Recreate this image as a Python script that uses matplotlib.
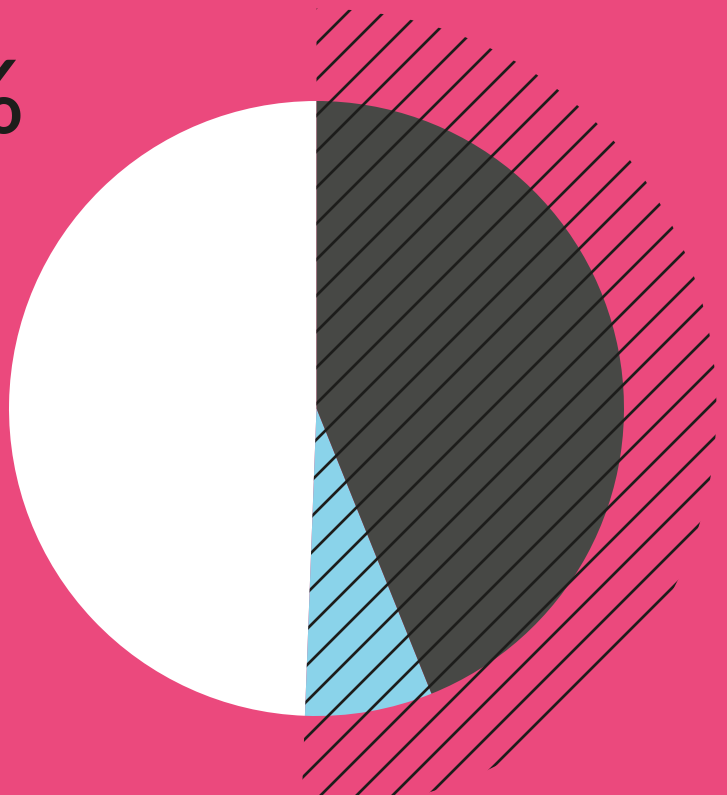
import matplotlib
matplotlib.use("Agg")
import matplotlib.pyplot as plt
from matplotlib.patches import Wedge

# Data
labels = ["White", "Blue", "Grey"]
values = [49.4, 6.7, 43.9]
colors = ["#ffffff", "#8ad3ea", "#474845"]
big_text = "%"

BG = "#eb497d"
DARK = "#1d1d1b"

W, H, DPI = 727, 795, 108
plt.rcParams["hatch.linewidth"] = 1.8
fig = plt.figure(figsize=(W / DPI, H / DPI), dpi=DPI, facecolor=BG)
ax = fig.add_axes([0, 0, 1, 1])
ax.set_facecolor(BG)

cx, cy, r = 316.5, H - 408.5, 307.5
ax.pie(values, colors=colors, startangle=90, counterclock=True,
       radius=r, center=(cx, cy), frame=True,
       wedgeprops=dict(linewidth=0))

# hatched wedge covering non-white slices
total = sum(values)
theta1 = 90 + 360 * values[0] / total
hatch = Wedge((cx, cy), 400, theta1, 450, facecolor="none",
              edgecolor=DARK, hatch="/", linewidth=0, zorder=5)
ax.add_patch(hatch)

ax.set_xlim(0, W)
ax.set_ylim(0, H)
ax.set_aspect("equal")
ax.axis("off")

fig.text(25 / W, 1 - 133 / H, big_text, ha="right", va="baseline",
         fontsize=68, color=DARK, fontweight="semibold",
         family=["Lato", "DejaVu Sans"])

fig.savefig("out.png", dpi=DPI, facecolor=BG)
